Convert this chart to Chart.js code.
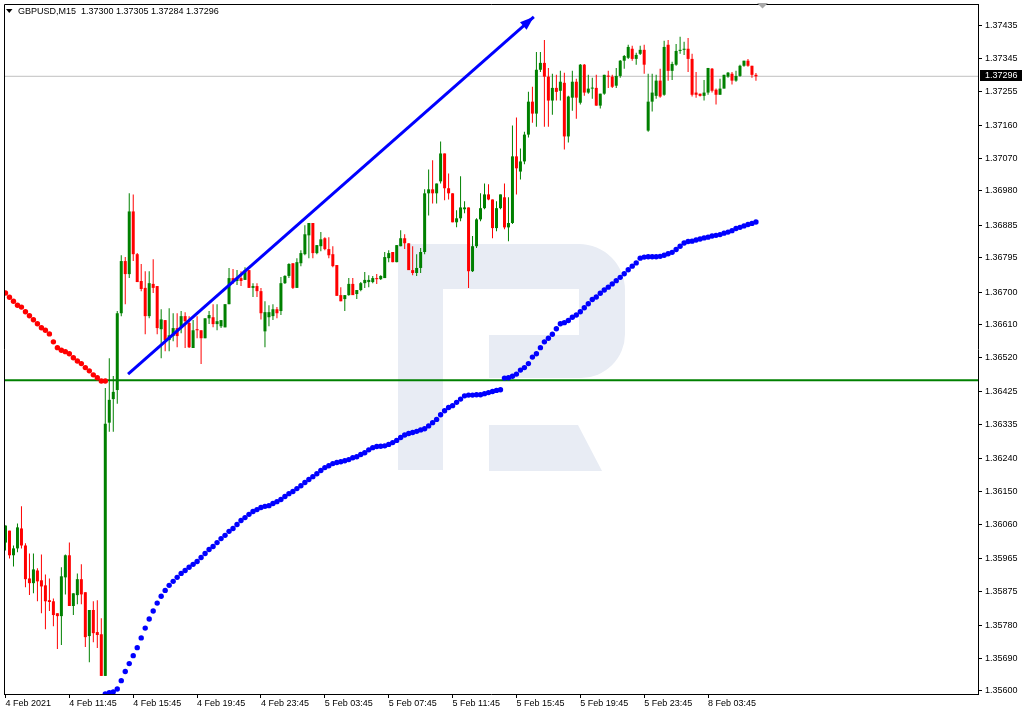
<!DOCTYPE html>
<html>
<head>
<meta charset="utf-8">
<script src="https://cdn.jsdelivr.net/npm/chart.js@4.4.0/dist/chart.umd.min.js"></script>
<style>
  html, body { margin: 0; padding: 0; background: #ffffff; }
  #wrap { position: relative; width: 1024px; height: 715px; }
</style>
</head>
<body>
<div id="wrap"><canvas id="c" width="1024" height="715"></canvas></div>
<script>
// ---------- DATA (GBPUSD, M15) ----------
const symbolTitle = "GBPUSD,M15  1.37300 1.37305 1.37284 1.37296";
const opens = [1.36009,1.36042,1.35974,1.35993,1.36048,1.36001,1.35910,1.35897,1.35932,1.35905,
1.35891,1.35850,1.35847,1.35814,1.35806,1.35913,1.35974,1.35834,1.35864,1.35908,
1.35872,1.35751,1.35823,1.35762,1.35756,1.35641,1.36340,1.36405,1.36430,1.36642,
1.36786,1.36750,1.36923,1.36805,1.36731,1.36712,1.36634,1.36723,1.36717,1.36598,
1.36623,1.36568,1.36579,1.36601,1.36601,1.36634,1.36615,1.36546,1.36598,1.36595,
1.36573,1.36628,1.36631,1.36612,1.36606,1.36603,1.36667,1.36739,1.36731,1.36739,
1.36734,1.36761,1.36712,1.36717,1.36703,1.36592,1.36631,1.36634,1.36653,1.36648,
1.36725,1.36745,1.36780,1.36712,1.36780,1.36805,1.36857,1.36891,1.36808,1.36827,
1.36849,1.36819,1.36805,1.36775,1.36692,1.36681,1.36692,1.36723,1.36695,1.36706,
1.36725,1.36728,1.36728,1.36739,1.36736,1.36739,1.36794,1.36811,1.36783,1.36827,
1.36849,1.36835,1.36761,1.36753,1.36767,1.36811,1.36973,1.36984,1.36973,1.37006,
1.37083,1.36987,1.36973,1.36893,1.36904,1.36929,1.36934,1.36758,1.36827,1.36901,
1.36932,1.36970,1.36956,1.36877,1.36932,1.36962,1.36879,1.36891,1.37075,1.37033,
1.37061,1.37135,1.37226,1.37193,1.37314,1.37333,1.37295,1.37229,1.37264,1.37256,
1.37278,1.37130,1.37237,1.37281,1.37223,1.37328,1.37251,1.37262,1.37264,1.37215,
1.37248,1.37297,1.37295,1.37270,1.37297,1.37339,1.37347,1.37372,1.37344,1.37358,
1.37369,1.37146,1.37226,1.37242,1.37284,1.37245,1.37383,1.37311,1.37328,1.37366,
1.37369,1.37372,1.37344,1.37251,1.37248,1.37242,1.37251,1.37317,1.37259,1.37245,
1.37262,1.37295,1.37303,1.37284,1.37297,1.37325,1.37339,1.37325,1.37300];
const highs = [1.36056,1.36042,1.36001,1.36062,1.36109,1.36007,1.35979,1.35979,1.35938,1.35976,
1.35921,1.35910,1.35855,1.35814,1.35941,1.35976,1.36009,1.35869,1.35924,1.35949,
1.35872,1.35823,1.35847,1.35850,1.35800,1.36436,1.36518,1.36469,1.36648,1.36802,
1.36797,1.36973,1.36970,1.36808,1.36778,1.36758,1.36758,1.36791,1.36717,1.36653,
1.36623,1.36656,1.36642,1.36642,1.36648,1.36645,1.36634,1.36623,1.36634,1.36595,
1.36628,1.36648,1.36667,1.36667,1.36623,1.36667,1.36767,1.36764,1.36761,1.36758,
1.36769,1.36761,1.36725,1.36725,1.36712,1.36675,1.36664,1.36667,1.36659,1.36742,
1.36747,1.36780,1.36780,1.36794,1.36816,1.36885,1.36891,1.36891,1.36830,1.36866,
1.36852,1.36852,1.36827,1.36775,1.36714,1.36692,1.36739,1.36739,1.36706,1.36728,
1.36756,1.36747,1.36745,1.36750,1.36747,1.36811,1.36816,1.36811,1.36830,1.36871,
1.36860,1.36835,1.36827,1.36805,1.36822,1.36984,1.37039,1.37064,1.37000,1.37116,
1.37083,1.37028,1.36973,1.36926,1.37020,1.36951,1.36934,1.36855,1.36904,1.36973,
1.37000,1.36998,1.36956,1.36951,1.36970,1.37000,1.36962,1.37160,1.37182,1.37097,
1.37143,1.37253,1.37267,1.37363,1.37363,1.37396,1.37319,1.37303,1.37300,1.37311,
1.37306,1.37242,1.37311,1.37289,1.37330,1.37330,1.37300,1.37292,1.37300,1.37248,
1.37300,1.37311,1.37300,1.37319,1.37341,1.37355,1.37383,1.37380,1.37361,1.37380,
1.37383,1.37303,1.37303,1.37300,1.37317,1.37394,1.37396,1.37336,1.37385,1.37405,
1.37391,1.37402,1.37358,1.37308,1.37248,1.37286,1.37319,1.37319,1.37262,1.37289,
1.37300,1.37308,1.37308,1.37311,1.37328,1.37339,1.37344,1.37325,1.37305];
const lows = [1.35987,1.35965,1.35943,1.35982,1.35993,1.35886,1.35864,1.35869,1.35847,1.35814,
1.35770,1.35820,1.35778,1.35715,1.35726,1.35866,1.35834,1.35809,1.35839,1.35839,
1.35721,1.35679,1.35734,1.35718,1.35641,1.35641,1.36315,1.36315,1.36392,1.36634,
1.36667,1.36739,1.36786,1.36728,1.36703,1.36584,1.36628,1.36698,1.36584,1.36518,
1.36537,1.36537,1.36565,1.36548,1.36587,1.36546,1.36546,1.36546,1.36573,1.36502,
1.36573,1.36612,1.36603,1.36595,1.36601,1.36603,1.36667,1.36723,1.36720,1.36717,
1.36734,1.36712,1.36687,1.36687,1.36625,1.36548,1.36606,1.36623,1.36628,1.36637,
1.36723,1.36739,1.36709,1.36712,1.36772,1.36802,1.36794,1.36794,1.36805,1.36813,
1.36816,1.36794,1.36769,1.36690,1.36675,1.36648,1.36690,1.36692,1.36681,1.36703,
1.36712,1.36714,1.36725,1.36723,1.36734,1.36739,1.36783,1.36783,1.36783,1.36827,
1.36819,1.36761,1.36747,1.36745,1.36753,1.36805,1.36912,1.36945,1.36945,1.37000,
1.36954,1.36956,1.36893,1.36879,1.36896,1.36918,1.36712,1.36756,1.36822,1.36896,
1.36929,1.36954,1.36849,1.36868,1.36929,1.36874,1.36841,1.36888,1.36970,1.37011,
1.37053,1.37127,1.37168,1.37157,1.37308,1.37157,1.37157,1.37190,1.37229,1.37229,
1.37094,1.37113,1.37201,1.37179,1.37218,1.37242,1.37248,1.37234,1.37215,1.37207,
1.37245,1.37264,1.37264,1.37264,1.37292,1.37317,1.37344,1.37339,1.37328,1.37355,
1.37303,1.37143,1.37199,1.37234,1.37237,1.37242,1.37284,1.37286,1.37325,1.37358,
1.37355,1.37308,1.37240,1.37237,1.37240,1.37229,1.37245,1.37251,1.37218,1.37245,
1.37262,1.37292,1.37273,1.37281,1.37295,1.37322,1.37322,1.37292,1.37284];
const closes = [1.36056,1.35974,1.35993,1.36051,1.36001,1.35908,1.35897,1.35935,1.35902,1.35888,
1.35847,1.35845,1.35809,1.35806,1.35916,1.35974,1.35834,1.35869,1.35908,1.35866,
1.35748,1.35823,1.35759,1.35754,1.35641,1.36337,1.36403,1.36425,1.36642,1.36786,
1.36750,1.36923,1.36805,1.36728,1.36709,1.36634,1.36725,1.36712,1.36601,1.36625,
1.36568,1.36581,1.36601,1.36579,1.36634,1.36620,1.36548,1.36595,1.36595,1.36573,
1.36628,1.36637,1.36612,1.36620,1.36623,1.36667,1.36739,1.36731,1.36739,1.36731,
1.36761,1.36712,1.36717,1.36703,1.36642,1.36645,1.36645,1.36653,1.36642,1.36725,
1.36745,1.36778,1.36712,1.36783,1.36808,1.36860,1.36891,1.36808,1.36830,1.36846,
1.36819,1.36802,1.36772,1.36690,1.36675,1.36692,1.36723,1.36692,1.36706,1.36725,
1.36734,1.36734,1.36739,1.36736,1.36745,1.36797,1.36808,1.36783,1.36830,1.36849,
1.36835,1.36761,1.36753,1.36767,1.36811,1.36973,1.36984,1.36973,1.37000,1.37083,
1.36987,1.36973,1.36893,1.36904,1.36934,1.36934,1.36758,1.36827,1.36901,1.36932,
1.36970,1.36956,1.36877,1.36932,1.36970,1.36879,1.36891,1.37075,1.37042,1.37061,
1.37135,1.37226,1.37193,1.37314,1.37333,1.37295,1.37229,1.37264,1.37253,1.37281,
1.37130,1.37240,1.37281,1.37237,1.37328,1.37251,1.37262,1.37264,1.37215,1.37248,
1.37300,1.37295,1.37267,1.37297,1.37339,1.37352,1.37377,1.37344,1.37355,1.37369,
1.37328,1.37226,1.37251,1.37284,1.37240,1.37377,1.37311,1.37330,1.37366,1.37369,
1.37372,1.37344,1.37245,1.37245,1.37242,1.37251,1.37319,1.37256,1.37245,1.37262,
1.37300,1.37306,1.37284,1.37297,1.37325,1.37339,1.37325,1.37300,1.37296];

// Dotted indicator (red above price, then blue below price)
const sarRedStart = 0;
const sarRed = [1.36698,1.36686,1.36675,1.36664,1.36659,1.36646,1.36635,1.36624,1.36613,1.36602,
1.36595,1.36585,1.36563,1.36547,1.36540,1.36536,1.36530,1.36519,1.36510,1.36503,
1.36492,1.36483,1.36472,1.36464,1.36455,1.36455];
const sarBlueStart = 25;
const sarBlue = [1.35591,1.35595,1.35597,1.35605,1.35628,
1.35653,1.35675,1.35697,1.35719,1.35746,1.35773,1.35798,1.35820,1.35842,1.35861,
1.35877,1.35891,1.35902,1.35913,1.35924,1.35932,1.35941,1.35949,1.35957,1.35968,
1.35979,1.35990,1.35998,1.36009,1.36020,1.36029,1.36040,1.36048,1.36059,1.36070,
1.36078,1.36087,1.36095,1.36100,1.36106,1.36109,1.36111,1.36117,1.36122,1.36128,
1.36136,1.36144,1.36150,1.36158,1.36166,1.36175,1.36183,1.36191,1.36199,1.36208,
1.36216,1.36221,1.36227,1.36230,1.36232,1.36235,1.36238,1.36243,1.36246,1.36252,
1.36257,1.36265,1.36271,1.36274,1.36275,1.36276,1.36280,1.36285,1.36291,1.36299,
1.36306,1.36310,1.36313,1.36316,1.36320,1.36323,1.36331,1.36340,1.36349,1.36362,
1.36373,1.36382,1.36387,1.36396,1.36405,1.36414,1.36416,1.36416,1.36417,1.36417,
1.36420,1.36423,1.36426,1.36429,1.36431,1.36463,1.36464,1.36468,1.36474,1.36485,
1.36492,1.36503,1.36521,1.36530,1.36547,1.36563,1.36573,1.36584,1.36599,1.36613,
1.36616,1.36622,1.36631,1.36637,1.36646,1.36657,1.36668,1.36680,1.36687,1.36697,
1.36706,1.36714,1.36723,1.36732,1.36741,1.36751,1.36762,1.36772,1.36781,1.36794,
1.36797,1.36798,1.36798,1.36798,1.36799,1.36802,1.36806,1.36810,1.36818,1.36827,
1.36836,1.36840,1.36841,1.36844,1.36847,1.36850,1.36852,1.36855,1.36857,1.36859,
1.36863,1.36866,1.36870,1.36876,1.36879,1.36883,1.36887,1.36890,1.36894];

// Drawn objects
const trendBars = [30.7, 132.35];
const trendPrices = [1.36474, 1.37460];
const supportLevel = 1.36457;
const bidPrice = 1.37296;

// Axis ticks
const yTicks = [1.37435,1.37345,1.37255,1.37160,1.37070,1.36980,1.36885,1.36795,1.36700,1.36610,
1.36520,1.36425,1.36335,1.36240,1.36150,1.36060,1.35965,1.35875,1.35780,1.35690,1.35600];
const xTickBars = [0,16,32,48,64,80,96,112,128,144,160,176];
const xTickLabels = ["4 Feb 2021","4 Feb 11:45","4 Feb 15:45","4 Feb 19:45","4 Feb 23:45","5 Feb 03:45",
"5 Feb 07:45","5 Feb 11:45","5 Feb 15:45","5 Feb 19:45","5 Feb 23:45","8 Feb 03:45"];

// ---------- CHART ----------
const GREEN = '#008000', RED = '#ff0000', BLUE = '#0000ff';
const FONT = { family: '"Liberation Sans", Arial, sans-serif', size: 9 };
const X_MIN = -0.375, X_MAX = 243.625;
const Y_MIN = 1.355911, Y_MAX = 1.374955;

const candleColors = closes.map((c, i) => c >= opens[i] ? GREEN : RED);
const wickData = lows.map((l, i) => ({ x: i, y: [l, highs[i]] }));
const bodyData = opens.map((o, i) => ({ x: i, y: [o, closes[i]] }));
const redDots = sarRed.map((v, k) => ({ x: sarRedStart + k, y: v }));
const blueDots = sarBlue.map((v, k) => ({ x: sarBlueStart + k, y: v }));

const logoPlugin = {
  id: 'logo',
  beforeDatasetsDraw(chart) {
    const ctx = chart.ctx;
    ctx.save();
    ctx.fillStyle = '#e8ecf4';
    ctx.fillRect(398, 244, 45, 226);
    ctx.beginPath();
    ctx.moveTo(443, 244);
    ctx.lineTo(580, 244);
    ctx.arcTo(625, 244, 625, 290, 46);
    ctx.lineTo(625, 333);
    ctx.arcTo(625, 378, 580, 378, 44);
    ctx.lineTo(489, 378);
    ctx.lineTo(489, 335);
    ctx.lineTo(579, 335);
    ctx.lineTo(579, 289);
    ctx.lineTo(443, 289);
    ctx.closePath();
    ctx.fill();
    ctx.beginPath();
    ctx.moveTo(489, 425);
    ctx.lineTo(578, 425);
    ctx.lineTo(602, 471);
    ctx.lineTo(489, 471);
    ctx.closePath();
    ctx.fill();
    ctx.restore();
  }
};

const TREND_INDEX = 6;
const overlayPlugin = {
  id: 'overlay',
  afterDatasetsDraw(chart) {
    const ctx = chart.ctx;
    const meta = chart.getDatasetMeta(TREND_INDEX);
    const p0 = meta.data[0], p1 = meta.data[1];
    const a = Math.atan2(p1.y - p0.y, p1.x - p0.x);
    const L = 14, W = 5;
    const bx = p1.x - L * Math.cos(a), by = p1.y - L * Math.sin(a);
    ctx.save();
    ctx.fillStyle = BLUE;
    ctx.beginPath();
    ctx.moveTo(p1.x, p1.y);
    ctx.lineTo(bx - W * Math.sin(a), by + W * Math.cos(a));
    ctx.lineTo(bx + W * Math.sin(a), by - W * Math.cos(a));
    ctx.closePath();
    ctx.fill();
    ctx.restore();
  },
  afterDraw(chart) {
    const ctx = chart.ctx;
    const ca = chart.chartArea;
    ctx.save();
    // left & top frame
    ctx.strokeStyle = '#000';
    ctx.lineWidth = 1;
    ctx.beginPath();
    ctx.moveTo(ca.left + 0.5, ca.bottom);
    ctx.lineTo(ca.left + 0.5, ca.top + 0.5);
    ctx.lineTo(ca.right, ca.top + 0.5);
    ctx.stroke();
    // header
    ctx.fillStyle = '#000';
    ctx.beginPath();
    ctx.moveTo(6, 9); ctx.lineTo(12.5, 9); ctx.lineTo(9.25, 13);
    ctx.closePath(); ctx.fill();
    ctx.font = '9px "Liberation Sans", Arial, sans-serif';
    ctx.textBaseline = 'middle';
    ctx.textAlign = 'left';
    ctx.fillText(symbolTitle, 18, 11.5);
    // bid price label on the axis
    const yb = chart.scales.y.getPixelForValue(bidPrice);
    ctx.fillStyle = '#000';
    ctx.fillRect(ca.right + 2, Math.round(yb) - 6, 42, 11);
    ctx.fillStyle = '#fff';
    ctx.fillText(bidPrice.toFixed(5), ca.right + 7, Math.round(yb));
    // chart shift marker
    ctx.fillStyle = '#a8a8a8';
    ctx.beginPath();
    ctx.moveTo(757, 3); ctx.lineTo(768, 3); ctx.lineTo(762.5, 8.5);
    ctx.closePath(); ctx.fill();
    ctx.restore();
  }
};

new Chart(document.getElementById('c'), {
  type: 'bar',
  data: {
    datasets: [
      { type: 'line', data: [{ x: X_MIN, y: bidPrice }, { x: X_MAX, y: bidPrice }],
        borderColor: '#c0c0c0', borderWidth: 1, pointRadius: 0, order: 10 },
      { type: 'line', data: [{ x: X_MIN, y: supportLevel }, { x: X_MAX, y: supportLevel }],
        borderColor: GREEN, borderWidth: 2, pointRadius: 0, order: 9 },
      { type: 'bar', data: wickData, backgroundColor: candleColors, barThickness: 1,
        grouped: false, minBarLength: 1, inflateAmount: 0, borderWidth: 0, order: 6 },
      { type: 'bar', data: bodyData, backgroundColor: candleColors, barThickness: 3,
        grouped: false, minBarLength: 1, inflateAmount: 0, borderWidth: 0, order: 5 },
      { type: 'line', data: redDots, showLine: false, pointRadius: 2.7, pointBorderWidth: 0,
        pointBackgroundColor: RED, order: 4 },
      { type: 'line', data: blueDots, showLine: false, pointRadius: 2.7, pointBorderWidth: 0,
        pointBackgroundColor: BLUE, order: 3 },
      { type: 'line', data: trendBars.map((b, k) => ({ x: b, y: trendPrices[k] })),
        borderColor: BLUE, borderWidth: 3, pointRadius: 0, order: 1 }
    ]
  },
  options: {
    responsive: false,
    devicePixelRatio: 1,
    animation: false,
    events: [],
    layout: { padding: { top: 2, left: 2, right: 0, bottom: 0 } },
    plugins: { legend: { display: false }, tooltip: { enabled: false } },
    scales: {
      x: {
        type: 'linear', min: X_MIN, max: X_MAX, offset: false,
        afterBuildTicks: s => { s.ticks = xTickBars.map(v => ({ value: v })); },
        afterFit: s => { s.height = 21; s.paddingLeft = 0; s.paddingRight = 0; },
        ticks: { align: 'start', autoSkip: false, maxRotation: 0, padding: 0, color: '#000', font: FONT,
          callback: (v) => xTickLabels[xTickBars.indexOf(v)] },
        grid: { drawOnChartArea: false, offset: false, tickLength: 4, color: '#000', tickColor: '#000' },
        border: { color: '#000', width: 1 }
      },
      y: {
        type: 'linear', position: 'right', min: Y_MIN, max: Y_MAX,
        afterBuildTicks: s => { s.ticks = yTicks.map(v => ({ value: v })); },
        afterFit: s => { s.width = 46; s.paddingTop = 0; s.paddingBottom = 0; },
        ticks: { autoSkip: false, padding: 3, color: '#000', font: FONT, callback: v => v.toFixed(5) },
        grid: { drawOnChartArea: false, tickLength: 4, color: '#000', tickColor: '#000' },
        border: { color: '#000', width: 1 }
      }
    }
  },
  plugins: [logoPlugin, overlayPlugin]
});
</script>
</body>
</html>
